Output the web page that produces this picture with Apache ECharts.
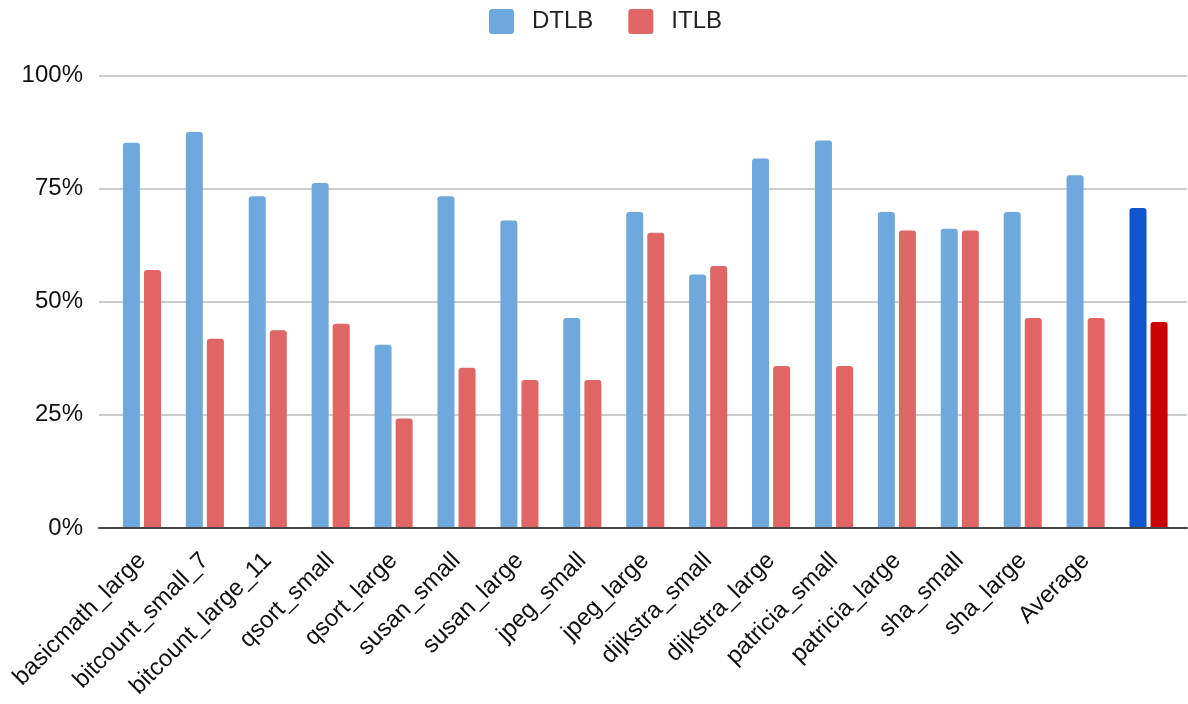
<!DOCTYPE html>
<html>
<head>
<meta charset="utf-8">
<script src="https://cdn.jsdelivr.net/npm/echarts@6/dist/echarts.min.js"></script>
<style>
  html, body { margin: 0; padding: 0; background: #fff; }
  #chart { width: 1188px; height: 704px; }
</style>
</head>
<body>
<div id="chart"></div>
<script>
// Benchmarks (the last group is the overall average, drawn in darker colours)
const categories = [
  'basicmath_large', 'bitcount_small_7', 'bitcount_large_11', 'qsort_small',
  'qsort_large', 'susan_small', 'susan_large', 'jpeg_small', 'jpeg_large',
  'dijkstra_small', 'dijkstra_large', 'patricia_small', 'patricia_large',
  'sha_small', 'sha_large', 'Average', ''
];
// Percent values per benchmark
const dtlb = [85.1, 87.5, 73.3, 76.2, 40.5, 73.3, 67.9, 46.4, 69.8, 56.0, 81.6, 85.6, 69.8, 66.1, 69.8, 77.9, 70.7];
const itlb = [57.0, 41.8, 43.7, 45.1, 24.2, 35.4, 32.7, 32.7, 65.2, 57.9, 35.8, 35.8, 65.7, 65.7, 46.4, 46.4, 45.5];
const yTicks = [0, 25, 50, 75, 100];

const FONT = '"Liberation Sans", Arial, sans-serif';
const lastIdx = categories.length - 1;

// small-radius square used as legend marker
const SQUARE_ICON = 'path://M3,0 H22 A3,3 0 0 1 25,3 V22 A3,3 0 0 1 22,25 H3 A3,3 0 0 1 0,22 V3 A3,3 0 0 1 3,0 Z';

function withHighlight(values, base, strong) {
  return values.map((v, i) => ({
    value: v,
    itemStyle: { color: i === lastIdx ? strong : base }
  }));
}

const chart = echarts.init(document.getElementById('chart'), null, { renderer: 'canvas' });

chart.setOption({
  animation: false,
  backgroundColor: '#ffffff',
  textStyle: { fontFamily: FONT },
  legend: {
    left: 489,
    top: 9,
    padding: 0,
    itemWidth: 25,
    itemHeight: 25,
    itemGap: 35,
    icon: SQUARE_ICON,
    textStyle: { fontSize: 24, color: '#222', fontFamily: FONT, padding: [0, 0, 0, 13] },
    data: [
      { name: 'DTLB', itemStyle: { color: '#6fa8dc' } },
      { name: 'ITLB', itemStyle: { color: '#e06666' } }
    ]
  },
  grid: [
    // background grid: gridlines, percent labels and baseline
    { left: 99, right: 1, top: 75.3, bottom: 176, containLabel: false },
    // bar area
    { left: 110.5, right: 8, top: 75.3, bottom: 176, containLabel: false }
  ],
  xAxis: [
    {
      gridIndex: 0, type: 'value', min: 0, max: 1,
      axisLine: { show: true, lineStyle: { color: '#444', width: 2 } },
      axisTick: { show: false }, axisLabel: { show: false }, splitLine: { show: false },
      z: 5
    },
    {
      gridIndex: 1, type: 'category', data: categories,
      axisLine: { show: false }, axisTick: { show: false },
      axisLabel: {
        rotate: 45, interval: 0, margin: 29,
        fontSize: 24, color: '#111', fontFamily: FONT
      }
    }
  ],
  yAxis: [
    {
      gridIndex: 0, type: 'value', min: 0, max: 100, interval: 25,
      axisLine: { show: false }, axisTick: { show: false },
      axisLabel: {
        margin: 16, fontSize: 24, color: '#111', fontFamily: FONT,
        formatter: v => yTicks.includes(v) ? v + '%' : ''
      },
      splitLine: { show: true, lineStyle: { color: '#cccccc', width: 2 } }
    },
    {
      gridIndex: 1, type: 'value', min: 0, max: 100, interval: 25, show: false
    }
  ],
  series: [
    {
      name: 'DTLB', type: 'bar', xAxisIndex: 1, yAxisIndex: 1,
      barWidth: 17, barGap: '24%',
      itemStyle: { color: '#6fa8dc', borderRadius: [3, 3, 0, 0] },
      data: withHighlight(dtlb, '#6fa8dc', '#1155cc')
    },
    {
      name: 'ITLB', type: 'bar', xAxisIndex: 1, yAxisIndex: 1,
      barWidth: 17, barGap: '24%',
      itemStyle: { color: '#e06666', borderRadius: [3, 3, 0, 0] },
      data: withHighlight(itlb, '#e06666', '#cc0000')
    }
  ]
});
</script>
</body>
</html>
